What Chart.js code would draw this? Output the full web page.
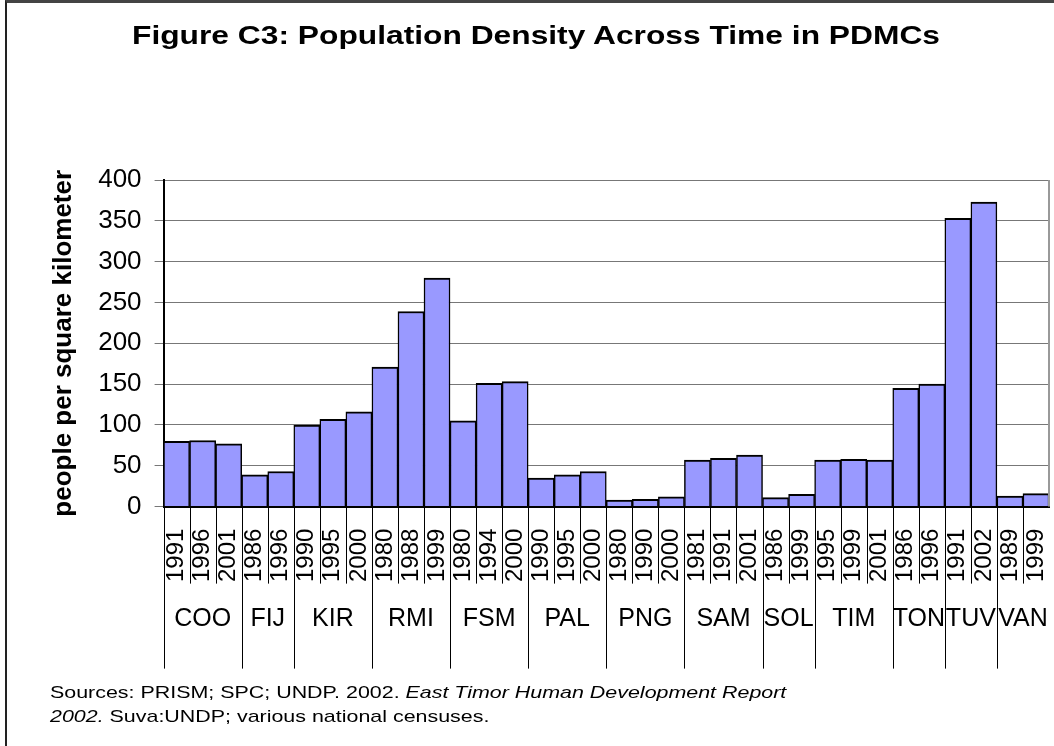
<!DOCTYPE html>
<html>
<head>
<meta charset="utf-8">
<script src="https://cdn.jsdelivr.net/npm/chart.js@4.4.1/dist/chart.umd.min.js"></script>
<style>
  body { margin: 0; background: #fff; }
  #wrap { position: relative; width: 1054px; height: 746px; overflow: hidden; background: #fff; }
  #frame { position: absolute; left: 5px; top: 0; width: 1100px; height: 800px; border-left: 2px solid #222; border-top: 3px solid #444; }
  #chart { position: absolute; left: 0; top: 0; }
  #title { position: absolute; left: 0; width: 1072px; top: 20px; text-align: center; font: bold 25px 'Liberation Sans', Arial, sans-serif; line-height: 30px; color: #000; transform: scaleX(1.27); transform-origin: 536px 0; white-space: nowrap; }
  #source { position: absolute; left: 50px; top: 681px; font: 17px 'Liberation Sans', Arial, sans-serif; line-height: 24px; color: #000; transform: scaleX(1.26); transform-origin: 0 0; white-space: nowrap; }
</style>
</head>
<body>
<div id="wrap">
  <div id="frame"></div>
  <canvas id="chart" width="1054" height="746"></canvas>
  <div id="title">Figure C3: Population Density Across Time in PDMCs</div>
  <div id="source">Sources: PRISM; SPC; UNDP. 2002. <i>East Timor Human Development Report</i><br><i>2002.</i> Suva:UNDP; various national censuses.</div>
</div>
<script>
// datos
const countries = ['COO', 'FIJ', 'KIR', 'RMI', 'FSM', 'PAL', 'PNG', 'SAM', 'SOL', 'TIM', 'TON', 'TUV', 'VAN'];
const groupSizes = [3, 2, 3, 3, 3, 3, 3, 3, 2, 3, 2, 2, 2];
const years = ['1991', '1996', '2001', '1986', '1996', '1990', '1995', '2000', '1980', '1988', '1999',
               '1980', '1994', '2000', '1990', '1995', '2000', '1980', '1990', '2000', '1981', '1991', '2001',
               '1986', '1999', '1995', '1999', '2001', '1986', '1996', '1991', '2002', '1989', '1999'];
const density = [80, 81, 77, 39, 43, 100, 107, 116, 171, 239, 280,
                 105, 151, 153, 35, 39, 43, 8, 9, 12, 57, 59, 63,
                 11, 15, 57, 58, 57, 145, 150, 353, 373, 13, 16];
const yTicks = [0, 50, 100, 150, 200, 250, 300, 350, 400];

const FONT = "'Liberation Sans', Arial, sans-serif";

const groupsPlugin = {
    id: 'groups',
    afterDraw(chart) {
        const ctx = chart.ctx;
        const x = chart.scales.x;
        const area = chart.chartArea;
        const half = (x.getPixelForValue(1) - x.getPixelForValue(0)) / 2;
        const axisY = area.bottom;

        ctx.save();
        // borde derecho del area
        ctx.strokeStyle = '#999';
        ctx.lineWidth = 2;
        ctx.beginPath();
        ctx.moveTo(area.right, area.top);
        ctx.lineTo(area.right, area.bottom);
        ctx.stroke();

        ctx.strokeStyle = '#000';
        ctx.lineWidth = 1;
        let start = 0;
        groupSizes.forEach((size, g) => {
            for (let i = start; i < start + size; i++) {
                const left = Math.round(x.getPixelForValue(i) - half) + 0.5;
                const bottom = i === start ? axisY + 162 : axisY + 77;
                ctx.beginPath();
                ctx.moveTo(left, axisY);
                ctx.lineTo(left, bottom);
                ctx.stroke();
            }
            const cx = (x.getPixelForValue(start) + x.getPixelForValue(start + size - 1)) / 2;
            ctx.fillStyle = '#000';
            ctx.font = '25px ' + FONT;
            ctx.textAlign = 'center';
            ctx.textBaseline = 'middle';
            ctx.fillText(countries[g], cx, axisY + 112);
            start += size;
        });
        ctx.restore();
    }
};

const ctx = document.getElementById('chart').getContext('2d');

const chart = new Chart(ctx, {
    type: 'bar',
    data: {
        labels: years,
        datasets: [{
            label: 'people per square kilometer',
            data: density,
            backgroundColor: '#9999FF',
            borderColor: '#000',
            borderWidth: { top: 2, left: 1.5, right: 1.5, bottom: 0 },
            borderSkipped: false,
            categoryPercentage: 1,
            barPercentage: 1
        }]
    },
    options: {
        responsive: false,
        animation: false,
        layout: {
            padding: { left: 10, top: 180, right: 5, bottom: 142 }
        },
        plugins: {
            legend: { display: false },
            tooltip: { enabled: false },
            title: { display: false }
        },
        scales: {
            x: {
                grid: { display: false, drawTicks: false, drawOnChartArea: false },
                border: { display: true, color: '#000', width: 2 },
                ticks: {
                    color: '#000',
                    font: { family: FONT, size: 24 },
                    minRotation: 90,
                    maxRotation: 90,
                    autoSkip: false,
                    padding: 22
                },
                afterFit: (scale) => {
                    scale.paddingLeft = 0;
                    scale.paddingRight = 0;
                }
            },
            y: {
                min: 0,
                max: 400,
                afterBuildTicks: (scale) => {
                    scale.ticks = yTicks.map(v => ({ value: v }));
                },
                grid: { color: '#777', lineWidth: 1, tickLength: 9 },
                border: { color: '#000', width: 2 },
                ticks: {
                    color: '#000',
                    font: { family: FONT, size: 26 },
                    padding: 13
                },
                title: {
                    display: true,
                    text: 'people per square kilometer',
                    color: '#000',
                    font: { family: FONT, size: 26, weight: 'bold' },
                    padding: { top: 38, bottom: 6 }
                }
            }
        }
    },
    plugins: [groupsPlugin]
});
</script>
</body>
</html>
